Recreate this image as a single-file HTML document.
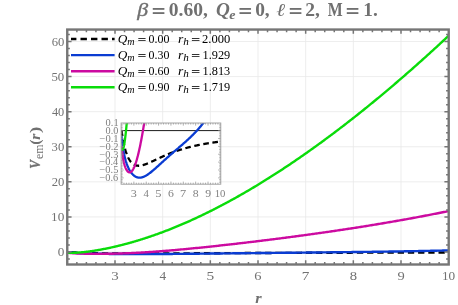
<!DOCTYPE html>
<html><head><meta charset="utf-8"><title>plot</title>
<style>html,body{margin:0;padding:0;background:#fff;width:458px;height:305px;overflow:hidden}body{position:relative;font-family:"Liberation Serif",serif}</style></head>
<body>
<svg width="458" height="305" viewBox="0 0 458 305" font-family="Liberation Serif, serif" style="position:absolute;left:0;top:0;will-change:transform">
<defs>
<clipPath id="cm"><rect x="67.25" y="29.55" width="381.45" height="234.95"/></clipPath>
<clipPath id="ci"><rect x="121.1" y="123.0" width="99.70" height="61.20"/></clipPath>
</defs>
<rect width="458" height="305" fill="#fff"/>
<path d="M115.00,29.55 V264.5 M162.66,29.55 V264.5 M210.33,29.55 V264.5 M258.00,29.55 V264.5 M305.67,29.55 V264.5 M353.33,29.55 V264.5 M401.00,29.55 V264.5 M67.25,252.00 H448.7 M67.25,216.92 H448.7 M67.25,181.84 H448.7 M67.25,146.76 H448.7 M67.25,111.68 H448.7 M67.25,76.60 H448.7 M67.25,41.52 H448.7" stroke="#e8e8e8" stroke-width="0.8" fill="none"/>
<g clip-path="url(#cm)" fill="none" stroke-linejoin="round">
<path d="M67.33,252.00 L67.93,252.05 L68.52,252.09 L69.12,252.14 L69.71,252.18 L70.31,252.22 L70.91,252.26 L71.50,252.30 L72.10,252.34 L72.69,252.37 L73.29,252.41 L73.88,252.45 L74.48,252.48 L75.08,252.51 L75.67,252.55 L76.27,252.58 L76.86,252.61 L77.46,252.64 L78.06,252.67 L78.65,252.70 L79.25,252.72 L79.84,252.75 L80.44,252.78 L81.03,252.80 L81.63,252.83 L82.23,252.85 L82.82,252.88 L83.42,252.90 L84.01,252.92 L84.61,252.94 L85.21,252.97 L85.80,252.99 L86.40,253.01 L86.99,253.03 L87.59,253.04 L88.18,253.06 L88.78,253.08 L89.38,253.10 L89.97,253.12 L90.57,253.13 L91.16,253.15 L91.76,253.16 L92.36,253.18 L92.95,253.19 L93.55,253.21 L94.14,253.22 L94.74,253.24 L95.33,253.25 L95.93,253.26 L96.53,253.27 L97.12,253.29 L97.72,253.30 L98.31,253.31 L98.91,253.32 L99.51,253.33 L100.10,253.34 L100.70,253.35 L101.29,253.36 L101.89,253.37 L102.48,253.38 L103.08,253.39 L103.68,253.40 L104.27,253.40 L104.87,253.41 L105.46,253.42 L106.06,253.43 L106.66,253.43 L107.25,253.44 L107.85,253.45 L108.44,253.45 L109.04,253.46 L109.63,253.47 L110.23,253.47 L110.83,253.48 L111.42,253.48 L112.02,253.49 L112.61,253.49 L113.21,253.50 L113.81,253.50 L114.40,253.51 L115.00,253.51 L115.59,253.51 L116.19,253.52 L116.78,253.52 L117.38,253.52 L117.98,253.53 L118.57,253.53 L119.17,253.53 L119.76,253.54 L120.36,253.54 L120.96,253.54 L121.55,253.54 L122.15,253.55 L122.74,253.55 L123.34,253.55 L123.93,253.55 L124.53,253.55 L125.13,253.56 L125.72,253.56 L126.32,253.56 L126.91,253.56 L127.51,253.56 L128.11,253.56 L128.70,253.56 L129.30,253.56 L129.89,253.56 L130.49,253.56 L131.08,253.56 L131.68,253.56 L132.28,253.56 L132.87,253.56 L133.47,253.56 L134.06,253.56 L134.66,253.56 L135.26,253.56 L135.85,253.56 L136.45,253.56 L137.04,253.56 L137.64,253.56 L138.23,253.56 L138.83,253.56 L139.43,253.56 L140.02,253.56 L140.62,253.56 L141.21,253.56 L141.81,253.56 L142.41,253.55 L143.00,253.55 L143.60,253.55 L144.19,253.55 L144.79,253.55 L145.38,253.55 L145.98,253.55 L146.58,253.55 L147.17,253.54 L147.77,253.54 L148.36,253.54 L148.96,253.54 L149.56,253.54 L150.15,253.53 L150.75,253.53 L151.34,253.53 L151.94,253.53 L152.53,253.53 L153.13,253.52 L153.73,253.52 L154.32,253.52 L154.92,253.52 L155.51,253.52 L156.11,253.51 L156.71,253.51 L157.30,253.51 L157.90,253.51 L158.49,253.50 L159.09,253.50 L159.68,253.50 L160.28,253.50 L160.88,253.49 L161.47,253.49 L162.07,253.49 L162.66,253.49 L163.86,253.48 L165.05,253.48 L166.24,253.47 L167.43,253.47 L168.62,253.46 L169.81,253.45 L171.01,253.45 L172.20,253.44 L173.39,253.44 L174.58,253.43 L175.77,253.42 L176.96,253.42 L178.16,253.41 L179.35,253.41 L180.54,253.40 L181.73,253.39 L182.92,253.39 L184.11,253.38 L185.31,253.37 L186.50,253.37 L187.69,253.36 L188.88,253.35 L190.07,253.35 L191.26,253.34 L192.46,253.34 L193.65,253.33 L194.84,253.32 L196.03,253.32 L197.22,253.31 L198.41,253.30 L199.61,253.30 L200.80,253.29 L201.99,253.28 L203.18,253.28 L204.37,253.27 L205.56,253.26 L206.76,253.26 L207.95,253.25 L209.14,253.24 L210.33,253.24 L211.52,253.23 L212.71,253.23 L213.91,253.22 L215.10,253.21 L216.29,253.21 L217.48,253.20 L218.67,253.19 L219.86,253.19 L221.06,253.18 L222.25,253.17 L223.44,253.17 L224.63,253.16 L225.82,253.16 L227.01,253.15 L228.21,253.14 L229.40,253.14 L230.59,253.13 L231.78,253.13 L232.97,253.12 L234.16,253.11 L235.36,253.11 L236.55,253.10 L237.74,253.10 L238.93,253.09 L240.12,253.08 L241.31,253.08 L242.51,253.07 L243.70,253.07 L244.89,253.06 L246.08,253.05 L247.27,253.05 L248.46,253.04 L249.66,253.04 L250.85,253.03 L252.04,253.03 L253.23,253.02 L254.42,253.02 L255.61,253.01 L256.81,253.00 L258.00,253.00 L259.19,252.99 L260.38,252.99 L261.57,252.98 L262.76,252.98 L263.96,252.97 L265.15,252.97 L266.34,252.96 L267.53,252.96 L268.72,252.95 L269.91,252.95 L271.11,252.94 L272.30,252.94 L273.49,252.93 L274.68,252.93 L275.87,252.92 L277.06,252.92 L278.26,252.91 L279.45,252.91 L280.64,252.90 L281.83,252.90 L283.02,252.89 L284.21,252.89 L285.41,252.88 L286.60,252.88 L287.79,252.88 L288.98,252.87 L290.17,252.87 L291.36,252.86 L292.56,252.86 L293.75,252.85 L294.94,252.85 L296.13,252.84 L297.32,252.84 L298.51,252.84 L299.71,252.83 L300.90,252.83 L302.09,252.82 L303.28,252.82 L304.47,252.81 L305.67,252.81 L306.86,252.81 L308.05,252.80 L309.24,252.80 L310.43,252.79 L311.62,252.79 L312.82,252.79 L314.01,252.78 L315.20,252.78 L316.39,252.78 L317.58,252.77 L318.77,252.77 L319.97,252.76 L321.16,252.76 L322.35,252.76 L323.54,252.75 L324.73,252.75 L325.92,252.75 L327.12,252.74 L328.31,252.74 L329.50,252.73 L330.69,252.73 L331.88,252.73 L333.07,252.72 L334.27,252.72 L335.46,252.72 L336.65,252.71 L337.84,252.71 L339.03,252.71 L340.22,252.70 L341.42,252.70 L342.61,252.70 L343.80,252.69 L344.99,252.69 L346.18,252.69 L347.37,252.69 L348.57,252.68 L349.76,252.68 L350.95,252.68 L352.14,252.67 L353.33,252.67 L354.52,252.67 L355.72,252.66 L356.91,252.66 L358.10,252.66 L359.29,252.66 L360.48,252.65 L361.67,252.65 L362.87,252.65 L364.06,252.64 L365.25,252.64 L366.44,252.64 L367.63,252.64 L368.82,252.63 L370.02,252.63 L371.21,252.63 L372.40,252.62 L373.59,252.62 L374.78,252.62 L375.97,252.62 L377.17,252.61 L378.36,252.61 L379.55,252.61 L380.74,252.61 L381.93,252.60 L383.12,252.60 L384.32,252.60 L385.51,252.60 L386.70,252.59 L387.89,252.59 L389.08,252.59 L390.27,252.59 L391.47,252.58 L392.66,252.58 L393.85,252.58 L395.04,252.58 L396.23,252.57 L397.42,252.57 L398.62,252.57 L399.81,252.57 L401.00,252.57 L402.19,252.56 L403.38,252.56 L404.57,252.56 L405.77,252.56 L406.96,252.55 L408.15,252.55 L409.34,252.55 L410.53,252.55 L411.72,252.55 L412.92,252.54 L414.11,252.54 L415.30,252.54 L416.49,252.54 L417.68,252.54 L418.87,252.53 L420.07,252.53 L421.26,252.53 L422.45,252.53 L423.64,252.53 L424.83,252.52 L426.02,252.52 L427.22,252.52 L428.41,252.52 L429.60,252.52 L430.79,252.51 L431.98,252.51 L433.17,252.51 L434.37,252.51 L435.56,252.51 L436.75,252.51 L437.94,252.50 L439.13,252.50 L440.32,252.50 L441.52,252.50 L442.71,252.50 L443.90,252.49 L445.09,252.49 L446.28,252.49 L447.47,252.49 L448.67,252.49" stroke="#000000" stroke-width="2.4" stroke-dasharray="6.3 3.9" stroke-dashoffset="6.2"/>
<path d="M67.33,252.24 L67.93,252.31 L68.52,252.38 L69.12,252.44 L69.71,252.50 L70.31,252.55 L70.91,252.60 L71.50,252.65 L72.10,252.70 L72.69,252.75 L73.29,252.79 L73.88,252.84 L74.48,252.88 L75.08,252.92 L75.67,252.95 L76.27,252.99 L76.86,253.02 L77.46,253.06 L78.06,253.09 L78.65,253.12 L79.25,253.15 L79.84,253.18 L80.44,253.21 L81.03,253.23 L81.63,253.26 L82.23,253.28 L82.82,253.31 L83.42,253.33 L84.01,253.36 L84.61,253.38 L85.21,253.40 L85.80,253.42 L86.40,253.44 L86.99,253.46 L87.59,253.48 L88.18,253.50 L88.78,253.52 L89.38,253.53 L89.97,253.55 L90.57,253.57 L91.16,253.59 L91.76,253.60 L92.36,253.62 L92.95,253.63 L93.55,253.65 L94.14,253.66 L94.74,253.68 L95.33,253.69 L95.93,253.70 L96.53,253.72 L97.12,253.73 L97.72,253.74 L98.31,253.75 L98.91,253.77 L99.51,253.78 L100.10,253.79 L100.70,253.80 L101.29,253.81 L101.89,253.82 L102.48,253.83 L103.08,253.84 L103.68,253.85 L104.27,253.86 L104.87,253.87 L105.46,253.88 L106.06,253.89 L106.66,253.90 L107.25,253.91 L107.85,253.91 L108.44,253.92 L109.04,253.93 L109.63,253.94 L110.23,253.95 L110.83,253.95 L111.42,253.96 L112.02,253.97 L112.61,253.97 L113.21,253.98 L113.81,253.99 L114.40,253.99 L115.00,254.00 L115.59,254.00 L116.19,254.01 L116.78,254.01 L117.38,254.02 L117.98,254.02 L118.57,254.03 L119.17,254.03 L119.76,254.04 L120.36,254.04 L120.96,254.05 L121.55,254.05 L122.15,254.05 L122.74,254.06 L123.34,254.06 L123.93,254.06 L124.53,254.07 L125.13,254.07 L125.72,254.07 L126.32,254.07 L126.91,254.08 L127.51,254.08 L128.11,254.08 L128.70,254.08 L129.30,254.08 L129.89,254.09 L130.49,254.09 L131.08,254.09 L131.68,254.09 L132.28,254.09 L132.87,254.09 L133.47,254.09 L134.06,254.09 L134.66,254.09 L135.26,254.09 L135.85,254.10 L136.45,254.10 L137.04,254.10 L137.64,254.10 L138.23,254.09 L138.83,254.09 L139.43,254.09 L140.02,254.09 L140.62,254.09 L141.21,254.09 L141.81,254.09 L142.41,254.09 L143.00,254.09 L143.60,254.09 L144.19,254.09 L144.79,254.08 L145.38,254.08 L145.98,254.08 L146.58,254.08 L147.17,254.08 L147.77,254.08 L148.36,254.07 L148.96,254.07 L149.56,254.07 L150.15,254.07 L150.75,254.06 L151.34,254.06 L151.94,254.06 L152.53,254.06 L153.13,254.05 L153.73,254.05 L154.32,254.05 L154.92,254.04 L155.51,254.04 L156.11,254.04 L156.71,254.04 L157.30,254.03 L157.90,254.03 L158.49,254.03 L159.09,254.02 L159.68,254.02 L160.28,254.01 L160.88,254.01 L161.47,254.01 L162.07,254.00 L162.66,254.00 L163.86,253.99 L165.05,253.98 L166.24,253.97 L167.43,253.96 L168.62,253.96 L169.81,253.95 L171.01,253.94 L172.20,253.93 L173.39,253.92 L174.58,253.91 L175.77,253.90 L176.96,253.89 L178.16,253.88 L179.35,253.86 L180.54,253.85 L181.73,253.84 L182.92,253.83 L184.11,253.82 L185.31,253.81 L186.50,253.80 L187.69,253.79 L188.88,253.77 L190.07,253.76 L191.26,253.75 L192.46,253.74 L193.65,253.73 L194.84,253.72 L196.03,253.70 L197.22,253.69 L198.41,253.68 L199.61,253.67 L200.80,253.65 L201.99,253.64 L203.18,253.63 L204.37,253.62 L205.56,253.60 L206.76,253.59 L207.95,253.58 L209.14,253.57 L210.33,253.55 L211.52,253.54 L212.71,253.53 L213.91,253.52 L215.10,253.50 L216.29,253.49 L217.48,253.48 L218.67,253.47 L219.86,253.45 L221.06,253.44 L222.25,253.43 L223.44,253.42 L224.63,253.40 L225.82,253.39 L227.01,253.38 L228.21,253.37 L229.40,253.35 L230.59,253.34 L231.78,253.33 L232.97,253.32 L234.16,253.30 L235.36,253.29 L236.55,253.28 L237.74,253.27 L238.93,253.25 L240.12,253.24 L241.31,253.23 L242.51,253.22 L243.70,253.21 L244.89,253.19 L246.08,253.18 L247.27,253.17 L248.46,253.16 L249.66,253.14 L250.85,253.13 L252.04,253.12 L253.23,253.11 L254.42,253.10 L255.61,253.08 L256.81,253.07 L258.00,253.06 L259.19,253.05 L260.38,253.04 L261.57,253.02 L262.76,253.01 L263.96,253.00 L265.15,252.99 L266.34,252.98 L267.53,252.96 L268.72,252.95 L269.91,252.94 L271.11,252.93 L272.30,252.92 L273.49,252.90 L274.68,252.89 L275.87,252.88 L277.06,252.87 L278.26,252.86 L279.45,252.85 L280.64,252.83 L281.83,252.82 L283.02,252.81 L284.21,252.80 L285.41,252.79 L286.60,252.77 L287.79,252.76 L288.98,252.75 L290.17,252.74 L291.36,252.73 L292.56,252.72 L293.75,252.70 L294.94,252.69 L296.13,252.68 L297.32,252.67 L298.51,252.66 L299.71,252.64 L300.90,252.63 L302.09,252.62 L303.28,252.61 L304.47,252.60 L305.67,252.58 L306.86,252.57 L308.05,252.56 L309.24,252.55 L310.43,252.54 L311.62,252.52 L312.82,252.51 L314.01,252.50 L315.20,252.49 L316.39,252.47 L317.58,252.46 L318.77,252.45 L319.97,252.44 L321.16,252.42 L322.35,252.41 L323.54,252.40 L324.73,252.39 L325.92,252.37 L327.12,252.36 L328.31,252.35 L329.50,252.33 L330.69,252.32 L331.88,252.31 L333.07,252.30 L334.27,252.28 L335.46,252.27 L336.65,252.26 L337.84,252.24 L339.03,252.23 L340.22,252.22 L341.42,252.20 L342.61,252.19 L343.80,252.17 L344.99,252.16 L346.18,252.15 L347.37,252.13 L348.57,252.12 L349.76,252.10 L350.95,252.09 L352.14,252.07 L353.33,252.06 L354.52,252.05 L355.72,252.03 L356.91,252.02 L358.10,252.00 L359.29,251.99 L360.48,251.97 L361.67,251.96 L362.87,251.94 L364.06,251.92 L365.25,251.91 L366.44,251.89 L367.63,251.88 L368.82,251.86 L370.02,251.85 L371.21,251.83 L372.40,251.81 L373.59,251.80 L374.78,251.78 L375.97,251.76 L377.17,251.75 L378.36,251.73 L379.55,251.71 L380.74,251.69 L381.93,251.68 L383.12,251.66 L384.32,251.64 L385.51,251.62 L386.70,251.61 L387.89,251.59 L389.08,251.57 L390.27,251.55 L391.47,251.53 L392.66,251.51 L393.85,251.49 L395.04,251.48 L396.23,251.46 L397.42,251.44 L398.62,251.42 L399.81,251.40 L401.00,251.38 L402.19,251.36 L403.38,251.34 L404.57,251.32 L405.77,251.30 L406.96,251.28 L408.15,251.26 L409.34,251.23 L410.53,251.21 L411.72,251.19 L412.92,251.17 L414.11,251.15 L415.30,251.13 L416.49,251.10 L417.68,251.08 L418.87,251.06 L420.07,251.04 L421.26,251.01 L422.45,250.99 L423.64,250.97 L424.83,250.94 L426.02,250.92 L427.22,250.90 L428.41,250.87 L429.60,250.85 L430.79,250.82 L431.98,250.80 L433.17,250.77 L434.37,250.75 L435.56,250.72 L436.75,250.70 L437.94,250.67 L439.13,250.65 L440.32,250.62 L441.52,250.59 L442.71,250.57 L443.90,250.54 L445.09,250.51 L446.28,250.49 L447.47,250.46 L448.67,250.43" stroke="#0a3cd2" stroke-width="2.4"/>
<path d="M67.33,252.70 L67.93,252.77 L68.52,252.83 L69.12,252.89 L69.71,252.95 L70.31,253.01 L70.91,253.06 L71.50,253.10 L72.10,253.15 L72.69,253.19 L73.29,253.23 L73.88,253.27 L74.48,253.31 L75.08,253.34 L75.67,253.37 L76.27,253.40 L76.86,253.43 L77.46,253.46 L78.06,253.49 L78.65,253.51 L79.25,253.53 L79.84,253.56 L80.44,253.58 L81.03,253.60 L81.63,253.62 L82.23,253.64 L82.82,253.65 L83.42,253.67 L84.01,253.69 L84.61,253.70 L85.21,253.72 L85.80,253.73 L86.40,253.74 L86.99,253.75 L87.59,253.76 L88.18,253.77 L88.78,253.78 L89.38,253.79 L89.97,253.80 L90.57,253.81 L91.16,253.82 L91.76,253.82 L92.36,253.83 L92.95,253.84 L93.55,253.84 L94.14,253.84 L94.74,253.85 L95.33,253.85 L95.93,253.85 L96.53,253.86 L97.12,253.86 L97.72,253.86 L98.31,253.86 L98.91,253.86 L99.51,253.86 L100.10,253.86 L100.70,253.86 L101.29,253.85 L101.89,253.85 L102.48,253.85 L103.08,253.84 L103.68,253.84 L104.27,253.83 L104.87,253.83 L105.46,253.82 L106.06,253.82 L106.66,253.81 L107.25,253.80 L107.85,253.79 L108.44,253.79 L109.04,253.78 L109.63,253.77 L110.23,253.76 L110.83,253.75 L111.42,253.74 L112.02,253.72 L112.61,253.71 L113.21,253.70 L113.81,253.69 L114.40,253.67 L115.00,253.66 L115.59,253.64 L116.19,253.63 L116.78,253.61 L117.38,253.60 L117.98,253.58 L118.57,253.56 L119.17,253.54 L119.76,253.53 L120.36,253.51 L120.96,253.49 L121.55,253.47 L122.15,253.45 L122.74,253.43 L123.34,253.41 L123.93,253.38 L124.53,253.36 L125.13,253.34 L125.72,253.32 L126.32,253.29 L126.91,253.27 L127.51,253.24 L128.11,253.22 L128.70,253.19 L129.30,253.17 L129.89,253.14 L130.49,253.11 L131.08,253.09 L131.68,253.06 L132.28,253.03 L132.87,253.00 L133.47,252.97 L134.06,252.94 L134.66,252.91 L135.26,252.88 L135.85,252.85 L136.45,252.82 L137.04,252.79 L137.64,252.76 L138.23,252.73 L138.83,252.69 L139.43,252.66 L140.02,252.63 L140.62,252.59 L141.21,252.56 L141.81,252.52 L142.41,252.49 L143.00,252.45 L143.60,252.41 L144.19,252.38 L144.79,252.34 L145.38,252.30 L145.98,252.27 L146.58,252.23 L147.17,252.19 L147.77,252.15 L148.36,252.11 L148.96,252.07 L149.56,252.03 L150.15,251.99 L150.75,251.95 L151.34,251.91 L151.94,251.87 L152.53,251.83 L153.13,251.79 L153.73,251.74 L154.32,251.70 L154.92,251.66 L155.51,251.62 L156.11,251.57 L156.71,251.53 L157.30,251.48 L157.90,251.44 L158.49,251.39 L159.09,251.35 L159.68,251.30 L160.28,251.26 L160.88,251.21 L161.47,251.17 L162.07,251.12 L162.66,251.07 L163.86,250.98 L165.05,250.88 L166.24,250.79 L167.43,250.69 L168.62,250.59 L169.81,250.49 L171.01,250.39 L172.20,250.28 L173.39,250.18 L174.58,250.08 L175.77,249.97 L176.96,249.87 L178.16,249.76 L179.35,249.65 L180.54,249.54 L181.73,249.43 L182.92,249.32 L184.11,249.21 L185.31,249.10 L186.50,248.99 L187.69,248.87 L188.88,248.76 L190.07,248.65 L191.26,248.53 L192.46,248.41 L193.65,248.30 L194.84,248.18 L196.03,248.06 L197.22,247.94 L198.41,247.82 L199.61,247.70 L200.80,247.58 L201.99,247.46 L203.18,247.33 L204.37,247.21 L205.56,247.09 L206.76,246.96 L207.95,246.84 L209.14,246.71 L210.33,246.59 L211.52,246.46 L212.71,246.33 L213.91,246.21 L215.10,246.08 L216.29,245.95 L217.48,245.82 L218.67,245.69 L219.86,245.56 L221.06,245.43 L222.25,245.30 L223.44,245.17 L224.63,245.03 L225.82,244.90 L227.01,244.77 L228.21,244.63 L229.40,244.50 L230.59,244.37 L231.78,244.23 L232.97,244.10 L234.16,243.96 L235.36,243.82 L236.55,243.69 L237.74,243.55 L238.93,243.41 L240.12,243.27 L241.31,243.13 L242.51,242.99 L243.70,242.86 L244.89,242.72 L246.08,242.57 L247.27,242.43 L248.46,242.29 L249.66,242.15 L250.85,242.01 L252.04,241.87 L253.23,241.72 L254.42,241.58 L255.61,241.44 L256.81,241.29 L258.00,241.15 L259.19,241.00 L260.38,240.86 L261.57,240.71 L262.76,240.56 L263.96,240.42 L265.15,240.27 L266.34,240.12 L267.53,239.97 L268.72,239.83 L269.91,239.68 L271.11,239.53 L272.30,239.38 L273.49,239.23 L274.68,239.08 L275.87,238.93 L277.06,238.77 L278.26,238.62 L279.45,238.47 L280.64,238.32 L281.83,238.16 L283.02,238.01 L284.21,237.86 L285.41,237.70 L286.60,237.55 L287.79,237.39 L288.98,237.23 L290.17,237.08 L291.36,236.92 L292.56,236.76 L293.75,236.61 L294.94,236.45 L296.13,236.29 L297.32,236.13 L298.51,235.97 L299.71,235.81 L300.90,235.65 L302.09,235.49 L303.28,235.33 L304.47,235.16 L305.67,235.00 L306.86,234.84 L308.05,234.67 L309.24,234.51 L310.43,234.35 L311.62,234.18 L312.82,234.02 L314.01,233.85 L315.20,233.68 L316.39,233.52 L317.58,233.35 L318.77,233.18 L319.97,233.01 L321.16,232.84 L322.35,232.67 L323.54,232.50 L324.73,232.33 L325.92,232.16 L327.12,231.99 L328.31,231.82 L329.50,231.64 L330.69,231.47 L331.88,231.30 L333.07,231.12 L334.27,230.95 L335.46,230.77 L336.65,230.60 L337.84,230.42 L339.03,230.24 L340.22,230.06 L341.42,229.88 L342.61,229.71 L343.80,229.53 L344.99,229.35 L346.18,229.17 L347.37,228.98 L348.57,228.80 L349.76,228.62 L350.95,228.44 L352.14,228.25 L353.33,228.07 L354.52,227.88 L355.72,227.70 L356.91,227.51 L358.10,227.32 L359.29,227.14 L360.48,226.95 L361.67,226.76 L362.87,226.57 L364.06,226.38 L365.25,226.19 L366.44,226.00 L367.63,225.81 L368.82,225.61 L370.02,225.42 L371.21,225.23 L372.40,225.03 L373.59,224.84 L374.78,224.64 L375.97,224.45 L377.17,224.25 L378.36,224.05 L379.55,223.85 L380.74,223.65 L381.93,223.45 L383.12,223.25 L384.32,223.05 L385.51,222.85 L386.70,222.65 L387.89,222.44 L389.08,222.24 L390.27,222.04 L391.47,221.83 L392.66,221.62 L393.85,221.42 L395.04,221.21 L396.23,221.00 L397.42,220.79 L398.62,220.58 L399.81,220.37 L401.00,220.16 L402.19,219.95 L403.38,219.74 L404.57,219.52 L405.77,219.31 L406.96,219.10 L408.15,218.88 L409.34,218.66 L410.53,218.45 L411.72,218.23 L412.92,218.01 L414.11,217.79 L415.30,217.57 L416.49,217.35 L417.68,217.13 L418.87,216.91 L420.07,216.68 L421.26,216.46 L422.45,216.23 L423.64,216.01 L424.83,215.78 L426.02,215.55 L427.22,215.33 L428.41,215.10 L429.60,214.87 L430.79,214.64 L431.98,214.41 L433.17,214.18 L434.37,213.94 L435.56,213.71 L436.75,213.48 L437.94,213.24 L439.13,213.00 L440.32,212.77 L441.52,212.53 L442.71,212.29 L443.90,212.05 L445.09,211.81 L446.28,211.57 L447.47,211.33 L448.67,211.09" stroke="#cc0aa0" stroke-width="2.4"/>
<path d="M67.33,252.77 L67.93,252.80 L68.52,252.82 L69.12,252.84 L69.71,252.85 L70.31,252.85 L70.91,252.86 L71.50,252.85 L72.10,252.85 L72.69,252.84 L73.29,252.83 L73.88,252.81 L74.48,252.79 L75.08,252.77 L75.67,252.74 L76.27,252.71 L76.86,252.68 L77.46,252.64 L78.06,252.60 L78.65,252.56 L79.25,252.52 L79.84,252.47 L80.44,252.42 L81.03,252.37 L81.63,252.32 L82.23,252.26 L82.82,252.20 L83.42,252.14 L84.01,252.08 L84.61,252.01 L85.21,251.95 L85.80,251.88 L86.40,251.81 L86.99,251.74 L87.59,251.66 L88.18,251.59 L88.78,251.51 L89.38,251.43 L89.97,251.35 L90.57,251.26 L91.16,251.18 L91.76,251.09 L92.36,251.00 L92.95,250.91 L93.55,250.82 L94.14,250.73 L94.74,250.64 L95.33,250.54 L95.93,250.44 L96.53,250.34 L97.12,250.24 L97.72,250.14 L98.31,250.04 L98.91,249.94 L99.51,249.83 L100.10,249.72 L100.70,249.61 L101.29,249.50 L101.89,249.39 L102.48,249.28 L103.08,249.17 L103.68,249.05 L104.27,248.94 L104.87,248.82 L105.46,248.70 L106.06,248.58 L106.66,248.46 L107.25,248.34 L107.85,248.21 L108.44,248.09 L109.04,247.96 L109.63,247.83 L110.23,247.71 L110.83,247.58 L111.42,247.45 L112.02,247.31 L112.61,247.18 L113.21,247.05 L113.81,246.91 L114.40,246.77 L115.00,246.64 L115.59,246.50 L116.19,246.36 L116.78,246.22 L117.38,246.07 L117.98,245.93 L118.57,245.78 L119.17,245.64 L119.76,245.49 L120.36,245.34 L120.96,245.19 L121.55,245.04 L122.15,244.89 L122.74,244.74 L123.34,244.59 L123.93,244.43 L124.53,244.27 L125.13,244.12 L125.72,243.96 L126.32,243.80 L126.91,243.64 L127.51,243.48 L128.11,243.32 L128.70,243.15 L129.30,242.99 L129.89,242.82 L130.49,242.65 L131.08,242.49 L131.68,242.32 L132.28,242.15 L132.87,241.98 L133.47,241.80 L134.06,241.63 L134.66,241.46 L135.26,241.28 L135.85,241.10 L136.45,240.93 L137.04,240.75 L137.64,240.57 L138.23,240.39 L138.83,240.21 L139.43,240.02 L140.02,239.84 L140.62,239.65 L141.21,239.47 L141.81,239.28 L142.41,239.09 L143.00,238.90 L143.60,238.71 L144.19,238.52 L144.79,238.33 L145.38,238.14 L145.98,237.94 L146.58,237.75 L147.17,237.55 L147.77,237.35 L148.36,237.15 L148.96,236.95 L149.56,236.75 L150.15,236.55 L150.75,236.35 L151.34,236.14 L151.94,235.94 L152.53,235.73 L153.13,235.53 L153.73,235.32 L154.32,235.11 L154.92,234.90 L155.51,234.69 L156.11,234.48 L156.71,234.26 L157.30,234.05 L157.90,233.84 L158.49,233.62 L159.09,233.40 L159.68,233.18 L160.28,232.97 L160.88,232.75 L161.47,232.52 L162.07,232.30 L162.66,232.08 L163.86,231.63 L165.05,231.18 L166.24,230.72 L167.43,230.26 L168.62,229.80 L169.81,229.33 L171.01,228.86 L172.20,228.38 L173.39,227.90 L174.58,227.41 L175.77,226.93 L176.96,226.44 L178.16,225.94 L179.35,225.44 L180.54,224.94 L181.73,224.43 L182.92,223.92 L184.11,223.41 L185.31,222.89 L186.50,222.37 L187.69,221.84 L188.88,221.31 L190.07,220.78 L191.26,220.24 L192.46,219.70 L193.65,219.16 L194.84,218.61 L196.03,218.06 L197.22,217.50 L198.41,216.95 L199.61,216.38 L200.80,215.82 L201.99,215.25 L203.18,214.68 L204.37,214.10 L205.56,213.52 L206.76,212.94 L207.95,212.35 L209.14,211.76 L210.33,211.17 L211.52,210.57 L212.71,209.97 L213.91,209.37 L215.10,208.76 L216.29,208.15 L217.48,207.54 L218.67,206.92 L219.86,206.30 L221.06,205.67 L222.25,205.05 L223.44,204.42 L224.63,203.78 L225.82,203.15 L227.01,202.51 L228.21,201.86 L229.40,201.21 L230.59,200.56 L231.78,199.91 L232.97,199.25 L234.16,198.59 L235.36,197.93 L236.55,197.26 L237.74,196.59 L238.93,195.92 L240.12,195.25 L241.31,194.57 L242.51,193.89 L243.70,193.20 L244.89,192.51 L246.08,191.82 L247.27,191.13 L248.46,190.43 L249.66,189.73 L250.85,189.02 L252.04,188.32 L253.23,187.61 L254.42,186.89 L255.61,186.18 L256.81,185.46 L258.00,184.74 L259.19,184.01 L260.38,183.28 L261.57,182.55 L262.76,181.82 L263.96,181.08 L265.15,180.34 L266.34,179.60 L267.53,178.85 L268.72,178.11 L269.91,177.35 L271.11,176.60 L272.30,175.84 L273.49,175.08 L274.68,174.32 L275.87,173.55 L277.06,172.79 L278.26,172.01 L279.45,171.24 L280.64,170.46 L281.83,169.68 L283.02,168.90 L284.21,168.11 L285.41,167.33 L286.60,166.53 L287.79,165.74 L288.98,164.94 L290.17,164.14 L291.36,163.34 L292.56,162.54 L293.75,161.73 L294.94,160.92 L296.13,160.11 L297.32,159.29 L298.51,158.47 L299.71,157.65 L300.90,156.83 L302.09,156.00 L303.28,155.17 L304.47,154.34 L305.67,153.50 L306.86,152.67 L308.05,151.83 L309.24,150.98 L310.43,150.14 L311.62,149.29 L312.82,148.44 L314.01,147.59 L315.20,146.73 L316.39,145.87 L317.58,145.01 L318.77,144.15 L319.97,143.28 L321.16,142.41 L322.35,141.54 L323.54,140.67 L324.73,139.79 L325.92,138.91 L327.12,138.03 L328.31,137.15 L329.50,136.26 L330.69,135.37 L331.88,134.48 L333.07,133.59 L334.27,132.69 L335.46,131.79 L336.65,130.89 L337.84,129.99 L339.03,129.08 L340.22,128.17 L341.42,127.26 L342.61,126.35 L343.80,125.43 L344.99,124.51 L346.18,123.59 L347.37,122.67 L348.57,121.74 L349.76,120.81 L350.95,119.88 L352.14,118.95 L353.33,118.01 L354.52,117.07 L355.72,116.13 L356.91,115.19 L358.10,114.24 L359.29,113.30 L360.48,112.35 L361.67,111.39 L362.87,110.44 L364.06,109.48 L365.25,108.52 L366.44,107.56 L367.63,106.59 L368.82,105.63 L370.02,104.66 L371.21,103.69 L372.40,102.71 L373.59,101.74 L374.78,100.76 L375.97,99.78 L377.17,98.79 L378.36,97.81 L379.55,96.82 L380.74,95.83 L381.93,94.84 L383.12,93.84 L384.32,92.85 L385.51,91.85 L386.70,90.85 L387.89,89.84 L389.08,88.84 L390.27,87.83 L391.47,86.82 L392.66,85.80 L393.85,84.79 L395.04,83.77 L396.23,82.75 L397.42,81.73 L398.62,80.70 L399.81,79.68 L401.00,78.65 L402.19,77.62 L403.38,76.58 L404.57,75.55 L405.77,74.51 L406.96,73.47 L408.15,72.43 L409.34,71.38 L410.53,70.34 L411.72,69.29 L412.92,68.24 L414.11,67.18 L415.30,66.13 L416.49,65.07 L417.68,64.01 L418.87,62.95 L420.07,61.88 L421.26,60.82 L422.45,59.75 L423.64,58.68 L424.83,57.61 L426.02,56.53 L427.22,55.45 L428.41,54.37 L429.60,53.29 L430.79,52.21 L431.98,51.12 L433.17,50.03 L434.37,48.94 L435.56,47.85 L436.75,46.76 L437.94,45.66 L439.13,44.56 L440.32,43.46 L441.52,42.36 L442.71,41.25 L443.90,40.14 L445.09,39.03 L446.28,37.92 L447.47,36.81 L448.67,35.69" stroke="#0adc0a" stroke-width="2.4"/>
</g>
<path d="M76.86,264.5 v-2.60 M76.86,29.55 v2.60 M86.40,264.5 v-2.60 M86.40,29.55 v2.60 M95.93,264.5 v-2.60 M95.93,29.55 v2.60 M105.46,264.5 v-2.60 M105.46,29.55 v2.60 M115.00,264.5 v-4.30 M115.00,29.55 v4.30 M124.53,264.5 v-2.60 M124.53,29.55 v2.60 M134.06,264.5 v-2.60 M134.06,29.55 v2.60 M143.60,264.5 v-2.60 M143.60,29.55 v2.60 M153.13,264.5 v-2.60 M153.13,29.55 v2.60 M162.66,264.5 v-4.30 M162.66,29.55 v4.30 M172.20,264.5 v-2.60 M172.20,29.55 v2.60 M181.73,264.5 v-2.60 M181.73,29.55 v2.60 M191.26,264.5 v-2.60 M191.26,29.55 v2.60 M200.80,264.5 v-2.60 M200.80,29.55 v2.60 M210.33,264.5 v-4.30 M210.33,29.55 v4.30 M219.86,264.5 v-2.60 M219.86,29.55 v2.60 M229.40,264.5 v-2.60 M229.40,29.55 v2.60 M238.93,264.5 v-2.60 M238.93,29.55 v2.60 M248.46,264.5 v-2.60 M248.46,29.55 v2.60 M258.00,264.5 v-4.30 M258.00,29.55 v4.30 M267.53,264.5 v-2.60 M267.53,29.55 v2.60 M277.06,264.5 v-2.60 M277.06,29.55 v2.60 M286.60,264.5 v-2.60 M286.60,29.55 v2.60 M296.13,264.5 v-2.60 M296.13,29.55 v2.60 M305.67,264.5 v-4.30 M305.67,29.55 v4.30 M315.20,264.5 v-2.60 M315.20,29.55 v2.60 M324.73,264.5 v-2.60 M324.73,29.55 v2.60 M334.27,264.5 v-2.60 M334.27,29.55 v2.60 M343.80,264.5 v-2.60 M343.80,29.55 v2.60 M353.33,264.5 v-4.30 M353.33,29.55 v4.30 M362.87,264.5 v-2.60 M362.87,29.55 v2.60 M372.40,264.5 v-2.60 M372.40,29.55 v2.60 M381.93,264.5 v-2.60 M381.93,29.55 v2.60 M391.47,264.5 v-2.60 M391.47,29.55 v2.60 M401.00,264.5 v-4.30 M401.00,29.55 v4.30 M410.53,264.5 v-2.60 M410.53,29.55 v2.60 M420.07,264.5 v-2.60 M420.07,29.55 v2.60 M429.60,264.5 v-2.60 M429.60,29.55 v2.60 M439.13,264.5 v-2.60 M439.13,29.55 v2.60 M67.25,259.02 h2.60 M448.7,259.02 h-2.60 M67.25,252.00 h4.30 M448.7,252.00 h-4.30 M67.25,244.98 h2.60 M448.7,244.98 h-2.60 M67.25,237.97 h2.60 M448.7,237.97 h-2.60 M67.25,230.95 h2.60 M448.7,230.95 h-2.60 M67.25,223.94 h2.60 M448.7,223.94 h-2.60 M67.25,216.92 h4.30 M448.7,216.92 h-4.30 M67.25,209.90 h2.60 M448.7,209.90 h-2.60 M67.25,202.89 h2.60 M448.7,202.89 h-2.60 M67.25,195.87 h2.60 M448.7,195.87 h-2.60 M67.25,188.86 h2.60 M448.7,188.86 h-2.60 M67.25,181.84 h4.30 M448.7,181.84 h-4.30 M67.25,174.82 h2.60 M448.7,174.82 h-2.60 M67.25,167.81 h2.60 M448.7,167.81 h-2.60 M67.25,160.79 h2.60 M448.7,160.79 h-2.60 M67.25,153.78 h2.60 M448.7,153.78 h-2.60 M67.25,146.76 h4.30 M448.7,146.76 h-4.30 M67.25,139.74 h2.60 M448.7,139.74 h-2.60 M67.25,132.73 h2.60 M448.7,132.73 h-2.60 M67.25,125.71 h2.60 M448.7,125.71 h-2.60 M67.25,118.70 h2.60 M448.7,118.70 h-2.60 M67.25,111.68 h4.30 M448.7,111.68 h-4.30 M67.25,104.66 h2.60 M448.7,104.66 h-2.60 M67.25,97.65 h2.60 M448.7,97.65 h-2.60 M67.25,90.63 h2.60 M448.7,90.63 h-2.60 M67.25,83.62 h2.60 M448.7,83.62 h-2.60 M67.25,76.60 h4.30 M448.7,76.60 h-4.30 M67.25,69.58 h2.60 M448.7,69.58 h-2.60 M67.25,62.57 h2.60 M448.7,62.57 h-2.60 M67.25,55.55 h2.60 M448.7,55.55 h-2.60 M67.25,48.54 h2.60 M448.7,48.54 h-2.60 M67.25,41.52 h4.30 M448.7,41.52 h-4.30 M67.25,34.50 h2.60 M448.7,34.50 h-2.60" stroke="#767676" stroke-width="1.5" fill="none"/>
<rect x="67.25" y="29.55" width="381.45" height="234.95" fill="none" stroke="#767676" stroke-width="2.4"/>
<rect x="121.1" y="123.0" width="99.70" height="61.20" fill="#fff"/>
<path d="M121.1,130.60 H220.8" stroke="#000" stroke-width="0.9"/>
<g clip-path="url(#ci)" fill="none" stroke-linejoin="round">
<path d="M121.50,130.66 L121.65,131.68 L121.81,132.68 L121.96,133.66 L122.12,134.61 L122.27,135.53 L122.43,136.44 L122.58,137.32 L122.74,138.17 L122.89,139.01 L123.05,139.82 L123.20,140.61 L123.35,141.38 L123.51,142.13 L123.66,142.86 L123.82,143.58 L123.97,144.27 L124.13,144.95 L124.28,145.61 L124.44,146.25 L124.59,146.87 L124.74,147.48 L124.90,148.07 L125.05,148.65 L125.21,149.21 L125.36,149.76 L125.52,150.29 L125.67,150.81 L125.83,151.31 L125.98,151.81 L126.14,152.28 L126.29,152.75 L126.44,153.20 L126.60,153.64 L126.75,154.07 L126.91,154.48 L127.06,154.89 L127.22,155.28 L127.37,155.66 L127.53,156.04 L127.68,156.40 L127.83,156.75 L127.99,157.09 L128.14,157.42 L128.30,157.74 L128.45,158.06 L128.61,158.36 L128.76,158.65 L128.92,158.94 L129.07,159.22 L129.22,159.49 L129.38,159.75 L129.53,160.00 L129.69,160.25 L129.84,160.49 L130.00,160.72 L130.15,160.94 L130.31,161.16 L130.46,161.37 L130.62,161.57 L130.77,161.77 L130.92,161.96 L131.08,162.14 L131.23,162.32 L131.39,162.49 L131.54,162.66 L131.70,162.82 L131.85,162.97 L132.01,163.12 L132.16,163.26 L132.31,163.40 L132.47,163.54 L132.62,163.66 L132.78,163.79 L132.93,163.91 L133.09,164.02 L133.24,164.13 L133.40,164.24 L133.55,164.34 L133.71,164.43 L133.86,164.52 L134.01,164.61 L134.17,164.70 L134.32,164.78 L134.48,164.85 L134.63,164.93 L134.79,165.00 L134.94,165.06 L135.10,165.12 L135.25,165.18 L135.41,165.24 L135.56,165.29 L135.71,165.34 L135.87,165.38 L136.02,165.43 L136.18,165.47 L136.33,165.50 L136.49,165.54 L136.64,165.57 L136.80,165.60 L136.95,165.62 L137.10,165.64 L137.26,165.66 L137.41,165.68 L137.57,165.70 L137.72,165.71 L137.88,165.72 L138.03,165.73 L138.19,165.74 L138.34,165.74 L138.50,165.74 L138.65,165.74 L138.80,165.74 L138.96,165.74 L139.11,165.73 L139.27,165.73 L139.42,165.72 L139.58,165.71 L139.73,165.69 L139.89,165.68 L140.04,165.66 L140.19,165.64 L140.35,165.62 L140.50,165.60 L140.66,165.58 L140.81,165.56 L140.97,165.53 L141.12,165.50 L141.28,165.47 L141.43,165.44 L141.59,165.41 L141.74,165.38 L141.89,165.35 L142.05,165.31 L142.20,165.28 L142.36,165.24 L142.51,165.20 L142.67,165.16 L142.82,165.12 L142.98,165.08 L143.13,165.04 L143.28,164.99 L143.44,164.95 L143.59,164.90 L143.75,164.86 L143.90,164.81 L144.06,164.76 L144.21,164.71 L144.37,164.66 L144.52,164.61 L144.68,164.56 L144.83,164.50 L144.98,164.45 L145.14,164.40 L145.29,164.34 L145.45,164.29 L145.60,164.23 L145.76,164.17 L145.91,164.12 L146.07,164.06 L146.22,164.00 L146.53,163.88 L146.84,163.76 L147.15,163.64 L147.46,163.51 L147.76,163.38 L148.07,163.26 L148.38,163.13 L148.69,162.99 L149.00,162.86 L149.31,162.73 L149.62,162.59 L149.93,162.45 L150.24,162.31 L150.55,162.17 L150.85,162.03 L151.16,161.89 L151.47,161.75 L151.78,161.61 L152.09,161.47 L152.40,161.32 L152.71,161.18 L153.02,161.03 L153.33,160.89 L153.64,160.74 L153.94,160.60 L154.25,160.45 L154.56,160.31 L154.87,160.16 L155.18,160.01 L155.49,159.87 L155.80,159.72 L156.11,159.57 L156.42,159.43 L156.73,159.28 L157.03,159.14 L157.34,158.99 L157.65,158.84 L157.96,158.70 L158.27,158.55 L158.58,158.41 L158.89,158.26 L159.20,158.12 L159.51,157.98 L159.82,157.83 L160.12,157.69 L160.43,157.55 L160.74,157.40 L161.05,157.26 L161.36,157.12 L161.67,156.98 L161.98,156.84 L162.29,156.70 L162.60,156.56 L162.91,156.42 L163.22,156.28 L163.52,156.15 L163.83,156.01 L164.14,155.87 L164.45,155.74 L164.76,155.60 L165.07,155.47 L165.38,155.33 L165.69,155.20 L166.00,155.07 L166.31,154.94 L166.61,154.81 L166.92,154.68 L167.23,154.55 L167.54,154.42 L167.85,154.29 L168.16,154.16 L168.47,154.03 L168.78,153.91 L169.09,153.78 L169.39,153.66 L169.70,153.53 L170.01,153.41 L170.32,153.29 L170.63,153.17 L170.94,153.05 L171.25,152.93 L171.56,152.81 L171.87,152.69 L172.18,152.57 L172.49,152.45 L172.79,152.34 L173.10,152.22 L173.41,152.10 L173.72,151.99 L174.03,151.88 L174.34,151.76 L174.65,151.65 L174.96,151.54 L175.27,151.43 L175.57,151.32 L175.88,151.21 L176.19,151.10 L176.50,151.00 L176.81,150.89 L177.12,150.78 L177.43,150.68 L177.74,150.57 L178.05,150.47 L178.36,150.37 L178.66,150.26 L178.97,150.16 L179.28,150.06 L179.59,149.96 L179.90,149.86 L180.21,149.76 L180.52,149.66 L180.83,149.57 L181.14,149.47 L181.45,149.37 L181.75,149.28 L182.06,149.18 L182.37,149.09 L182.68,149.00 L182.99,148.90 L183.30,148.81 L183.61,148.72 L183.92,148.63 L184.23,148.54 L184.54,148.45 L184.84,148.36 L185.15,148.27 L185.46,148.19 L185.77,148.10 L186.08,148.01 L186.39,147.93 L186.70,147.84 L187.01,147.76 L187.32,147.68 L187.63,147.59 L187.94,147.51 L188.24,147.43 L188.55,147.35 L188.86,147.27 L189.17,147.19 L189.48,147.11 L189.79,147.03 L190.10,146.95 L190.41,146.87 L190.72,146.80 L191.02,146.72 L191.33,146.65 L191.64,146.57 L191.95,146.50 L192.26,146.42 L192.57,146.35 L192.88,146.28 L193.19,146.20 L193.50,146.13 L193.81,146.06 L194.12,145.99 L194.42,145.92 L194.73,145.85 L195.04,145.78 L195.35,145.71 L195.66,145.65 L195.97,145.58 L196.28,145.51 L196.59,145.45 L196.90,145.38 L197.20,145.31 L197.51,145.25 L197.82,145.19 L198.13,145.12 L198.44,145.06 L198.75,145.00 L199.06,144.93 L199.37,144.87 L199.68,144.81 L199.99,144.75 L200.30,144.69 L200.60,144.63 L200.91,144.57 L201.22,144.51 L201.53,144.45 L201.84,144.39 L202.15,144.33 L202.46,144.28 L202.77,144.22 L203.08,144.16 L203.38,144.11 L203.69,144.05 L204.00,143.99 L204.31,143.94 L204.62,143.89 L204.93,143.83 L205.24,143.78 L205.55,143.72 L205.86,143.67 L206.17,143.62 L206.47,143.57 L206.78,143.51 L207.09,143.46 L207.40,143.41 L207.71,143.36 L208.02,143.31 L208.33,143.26 L208.64,143.21 L208.95,143.16 L209.26,143.11 L209.56,143.06 L209.87,143.02 L210.18,142.97 L210.49,142.92 L210.80,142.87 L211.11,142.83 L211.42,142.78 L211.73,142.73 L212.04,142.69 L212.35,142.64 L212.66,142.60 L212.96,142.55 L213.27,142.51 L213.58,142.46 L213.89,142.42 L214.20,142.38 L214.51,142.33 L214.82,142.29 L215.13,142.25 L215.44,142.20 L215.75,142.16 L216.05,142.12 L216.36,142.08 L216.67,142.04 L216.98,141.99 L217.29,141.95 L217.60,141.91 L217.91,141.87 L218.22,141.83 L218.53,141.79 L218.83,141.75 L219.14,141.71 L219.45,141.67 L219.76,141.63 L220.07,141.60 L220.38,141.56" stroke="#000000" stroke-width="2.3" stroke-dasharray="5.6 3.6"/>
<path d="M121.50,136.09 L121.65,137.60 L121.81,139.05 L121.96,140.42 L122.12,141.73 L122.27,142.97 L122.43,144.16 L122.58,145.30 L122.74,146.38 L122.89,147.42 L123.05,148.42 L123.20,149.37 L123.35,150.28 L123.51,151.16 L123.66,152.00 L123.82,152.81 L123.97,153.59 L124.13,154.34 L124.28,155.06 L124.44,155.75 L124.59,156.43 L124.74,157.07 L124.90,157.70 L125.05,158.30 L125.21,158.89 L125.36,159.45 L125.52,160.00 L125.67,160.53 L125.83,161.05 L125.98,161.55 L126.14,162.03 L126.29,162.51 L126.44,162.96 L126.60,163.41 L126.75,163.84 L126.91,164.26 L127.06,164.67 L127.22,165.07 L127.37,165.46 L127.53,165.84 L127.68,166.21 L127.83,166.57 L127.99,166.92 L128.14,167.27 L128.30,167.60 L128.45,167.93 L128.61,168.25 L128.76,168.56 L128.92,168.86 L129.07,169.16 L129.22,169.45 L129.38,169.73 L129.53,170.00 L129.69,170.27 L129.84,170.54 L130.00,170.79 L130.15,171.04 L130.31,171.29 L130.46,171.53 L130.62,171.76 L130.77,171.99 L130.92,172.21 L131.08,172.43 L131.23,172.64 L131.39,172.84 L131.54,173.04 L131.70,173.24 L131.85,173.43 L132.01,173.61 L132.16,173.79 L132.31,173.97 L132.47,174.14 L132.62,174.31 L132.78,174.47 L132.93,174.63 L133.09,174.78 L133.24,174.93 L133.40,175.07 L133.55,175.21 L133.71,175.34 L133.86,175.47 L134.01,175.60 L134.17,175.72 L134.32,175.84 L134.48,175.95 L134.63,176.06 L134.79,176.17 L134.94,176.27 L135.10,176.37 L135.25,176.46 L135.41,176.55 L135.56,176.64 L135.71,176.72 L135.87,176.80 L136.02,176.87 L136.18,176.94 L136.33,177.01 L136.49,177.08 L136.64,177.14 L136.80,177.19 L136.95,177.25 L137.10,177.30 L137.26,177.35 L137.41,177.39 L137.57,177.43 L137.72,177.47 L137.88,177.50 L138.03,177.53 L138.19,177.56 L138.34,177.58 L138.50,177.60 L138.65,177.62 L138.80,177.64 L138.96,177.65 L139.11,177.66 L139.27,177.66 L139.42,177.67 L139.58,177.67 L139.73,177.66 L139.89,177.66 L140.04,177.65 L140.19,177.64 L140.35,177.63 L140.50,177.61 L140.66,177.59 L140.81,177.57 L140.97,177.55 L141.12,177.52 L141.28,177.50 L141.43,177.47 L141.59,177.43 L141.74,177.40 L141.89,177.36 L142.05,177.32 L142.20,177.28 L142.36,177.23 L142.51,177.19 L142.67,177.14 L142.82,177.09 L142.98,177.03 L143.13,176.98 L143.28,176.92 L143.44,176.86 L143.59,176.80 L143.75,176.74 L143.90,176.67 L144.06,176.61 L144.21,176.54 L144.37,176.47 L144.52,176.39 L144.68,176.32 L144.83,176.24 L144.98,176.17 L145.14,176.09 L145.29,176.01 L145.45,175.93 L145.60,175.84 L145.76,175.76 L145.91,175.67 L146.07,175.58 L146.22,175.49 L146.53,175.31 L146.84,175.12 L147.15,174.92 L147.46,174.72 L147.76,174.52 L148.07,174.31 L148.38,174.10 L148.69,173.88 L149.00,173.66 L149.31,173.43 L149.62,173.20 L149.93,172.97 L150.24,172.73 L150.55,172.49 L150.85,172.25 L151.16,172.00 L151.47,171.75 L151.78,171.50 L152.09,171.24 L152.40,170.99 L152.71,170.73 L153.02,170.47 L153.33,170.20 L153.64,169.94 L153.94,169.67 L154.25,169.40 L154.56,169.13 L154.87,168.86 L155.18,168.59 L155.49,168.32 L155.80,168.04 L156.11,167.76 L156.42,167.49 L156.73,167.21 L157.03,166.93 L157.34,166.65 L157.65,166.37 L157.96,166.09 L158.27,165.81 L158.58,165.53 L158.89,165.25 L159.20,164.96 L159.51,164.68 L159.82,164.40 L160.12,164.12 L160.43,163.83 L160.74,163.55 L161.05,163.27 L161.36,162.99 L161.67,162.70 L161.98,162.42 L162.29,162.14 L162.60,161.86 L162.91,161.58 L163.22,161.29 L163.52,161.01 L163.83,160.73 L164.14,160.45 L164.45,160.17 L164.76,159.89 L165.07,159.61 L165.38,159.33 L165.69,159.06 L166.00,158.78 L166.31,158.50 L166.61,158.22 L166.92,157.95 L167.23,157.67 L167.54,157.40 L167.85,157.12 L168.16,156.85 L168.47,156.57 L168.78,156.30 L169.09,156.03 L169.39,155.76 L169.70,155.48 L170.01,155.21 L170.32,154.94 L170.63,154.67 L170.94,154.40 L171.25,154.13 L171.56,153.86 L171.87,153.59 L172.18,153.32 L172.49,153.06 L172.79,152.79 L173.10,152.52 L173.41,152.25 L173.72,151.99 L174.03,151.72 L174.34,151.45 L174.65,151.19 L174.96,150.92 L175.27,150.66 L175.57,150.39 L175.88,150.13 L176.19,149.86 L176.50,149.60 L176.81,149.33 L177.12,149.07 L177.43,148.80 L177.74,148.54 L178.05,148.27 L178.36,148.01 L178.66,147.74 L178.97,147.48 L179.28,147.21 L179.59,146.94 L179.90,146.68 L180.21,146.41 L180.52,146.15 L180.83,145.88 L181.14,145.61 L181.45,145.34 L181.75,145.08 L182.06,144.81 L182.37,144.54 L182.68,144.27 L182.99,144.00 L183.30,143.73 L183.61,143.46 L183.92,143.18 L184.23,142.91 L184.54,142.64 L184.84,142.36 L185.15,142.09 L185.46,141.81 L185.77,141.53 L186.08,141.26 L186.39,140.98 L186.70,140.70 L187.01,140.42 L187.32,140.13 L187.63,139.85 L187.94,139.56 L188.24,139.28 L188.55,138.99 L188.86,138.70 L189.17,138.41 L189.48,138.12 L189.79,137.83 L190.10,137.54 L190.41,137.24 L190.72,136.94 L191.02,136.65 L191.33,136.34 L191.64,136.04 L191.95,135.74 L192.26,135.43 L192.57,135.13 L192.88,134.82 L193.19,134.51 L193.50,134.19 L193.81,133.88 L194.12,133.56 L194.42,133.24 L194.73,132.92 L195.04,132.60 L195.35,132.28 L195.66,131.95 L195.97,131.62 L196.28,131.29 L196.59,130.95 L196.90,130.62 L197.20,130.28 L197.51,129.94 L197.82,129.60 L198.13,129.25 L198.44,128.90 L198.75,128.55 L199.06,128.20 L199.37,127.84 L199.68,127.48 L199.99,127.12 L200.30,126.75 L200.60,126.39 L200.91,126.02 L201.22,125.64 L201.53,125.27 L201.84,124.89 L202.15,124.51 L202.46,124.12 L202.77,123.73 L203.08,123.34 L203.38,122.95 L203.69,122.55 L204.00,122.15 L204.31,121.75 L204.62,121.34 L204.93,120.93 L205.24,120.51 L205.55,120.10 L205.86,119.68 L206.17,119.25 L206.47,118.82 L206.78,118.39 L207.09,117.96 L207.40,117.52 L207.71,117.08 L208.02,116.63 L208.33,116.18 L208.64,115.73 L208.95,115.27 L209.26,114.81 L209.56,114.34 L209.87,113.87 L210.18,113.40 L210.49,112.92 L210.80,112.44 L211.11,111.96 L211.42,111.47 L211.73,110.97 L212.04,110.48 L212.35,109.97 L212.66,109.47 L212.96,108.96 L213.27,108.44 L213.58,107.92 L213.89,107.40 L214.20,106.87 L214.51,106.34 L214.82,105.81 L215.13,105.26 L215.44,104.72 L215.75,104.17 L216.05,103.61 L216.36,103.05 L216.67,102.49 L216.98,101.92 L217.29,101.35 L217.60,100.77 L217.91,100.19 L218.22,99.60 L218.53,99.01 L218.83,98.41 L219.14,97.81 L219.45,97.20 L219.76,96.59 L220.07,95.97 L220.38,95.35" stroke="#0a3cd2" stroke-width="2.3"/>
<path d="M121.50,146.38 L121.65,147.91 L121.81,149.35 L121.96,150.70 L122.12,151.98 L122.27,153.18 L122.43,154.31 L122.58,155.38 L122.74,156.39 L122.89,157.35 L123.05,158.25 L123.20,159.11 L123.35,159.92 L123.51,160.69 L123.66,161.42 L123.82,162.11 L123.97,162.76 L124.13,163.38 L124.28,163.97 L124.44,164.53 L124.59,165.07 L124.74,165.57 L124.90,166.06 L125.05,166.51 L125.21,166.95 L125.36,167.36 L125.52,167.75 L125.67,168.12 L125.83,168.48 L125.98,168.81 L126.14,169.13 L126.29,169.42 L126.44,169.71 L126.60,169.97 L126.75,170.22 L126.91,170.46 L127.06,170.68 L127.22,170.88 L127.37,171.08 L127.53,171.25 L127.68,171.42 L127.83,171.57 L127.99,171.70 L128.14,171.83 L128.30,171.94 L128.45,172.03 L128.61,172.12 L128.76,172.19 L128.92,172.25 L129.07,172.30 L129.22,172.33 L129.38,172.36 L129.53,172.37 L129.69,172.36 L129.84,172.35 L130.00,172.32 L130.15,172.29 L130.31,172.24 L130.46,172.17 L130.62,172.10 L130.77,172.01 L130.92,171.92 L131.08,171.81 L131.23,171.69 L131.39,171.55 L131.54,171.41 L131.70,171.25 L131.85,171.08 L132.01,170.90 L132.16,170.71 L132.31,170.51 L132.47,170.29 L132.62,170.07 L132.78,169.83 L132.93,169.58 L133.09,169.31 L133.24,169.04 L133.40,168.76 L133.55,168.46 L133.71,168.15 L133.86,167.83 L134.01,167.50 L134.17,167.16 L134.32,166.81 L134.48,166.44 L134.63,166.06 L134.79,165.68 L134.94,165.28 L135.10,164.87 L135.25,164.45 L135.41,164.01 L135.56,163.57 L135.71,163.12 L135.87,162.65 L136.02,162.17 L136.18,161.69 L136.33,161.19 L136.49,160.68 L136.64,160.16 L136.80,159.63 L136.95,159.09 L137.10,158.54 L137.26,157.98 L137.41,157.41 L137.57,156.82 L137.72,156.23 L137.88,155.63 L138.03,155.01 L138.19,154.39 L138.34,153.76 L138.50,153.11 L138.65,152.46 L138.80,151.80 L138.96,151.13 L139.11,150.44 L139.27,149.75 L139.42,149.05 L139.58,148.34 L139.73,147.62 L139.89,146.89 L140.04,146.15 L140.19,145.40 L140.35,144.64 L140.50,143.87 L140.66,143.10 L140.81,142.31 L140.97,141.52 L141.12,140.72 L141.28,139.91 L141.43,139.09 L141.59,138.26 L141.74,137.42 L141.89,136.58 L142.05,135.72 L142.20,134.86 L142.36,133.99 L142.51,133.11 L142.67,132.22 L142.82,131.33 L142.98,130.43 L143.13,129.52 L143.28,128.60 L143.44,127.67 L143.59,126.74 L143.75,125.80 L143.90,124.85 L144.06,123.89 L144.21,122.93 L144.37,121.96 L144.52,120.98 L144.68,120.00 L144.83,119.00 L144.98,118.00 L145.14,117.00 L145.29,115.98 L145.45,114.96 L145.60,113.94 L145.76,112.90 L145.91,111.86 L146.07,110.82 L146.22,109.76 L146.53,107.64 L146.84,105.49 L147.15,103.31 L147.46,101.11 L147.76,98.88 L148.07,96.64 L148.38,94.37 L148.69,92.07 L149.00,89.76 L149.31,87.42 L149.62,85.06 L149.93,82.68 L150.24,80.28 L150.55,77.86 L150.85,75.42 L151.16,72.96 L151.47,70.49 L151.78,67.99 L152.09,65.48 L152.40,62.95 L152.71,60.40 L153.02,57.83 L153.33,55.25 L153.64,52.65 L153.94,50.03 L154.25,47.40 L154.56,44.75 L154.87,42.09 L155.18,39.41 L155.49,36.71 L155.80,34.01 L156.11,31.28 L156.42,28.55 L156.73,25.80 L157.03,23.03 L157.34,20.25 L157.65,17.46 L157.96,14.66 L158.27,11.84 L158.58,9.01 L158.89,6.17 L159.20,3.32 L159.51,0.45 L159.82,-2.43 L160.12,-5.32 L160.43,-8.22 L160.74,-11.14 L161.05,-14.06 L161.36,-17.00 L161.67,-19.95 L161.98,-22.91 L162.29,-25.88 L162.60,-28.86 L162.91,-31.85 L163.22,-34.85 L163.52,-37.87 L163.83,-40.89 L164.14,-43.92 L164.45,-46.97 L164.76,-50.02 L165.07,-53.09 L165.38,-56.16 L165.69,-59.25 L166.00,-62.34 L166.31,-65.45 L166.61,-68.56 L166.92,-71.69 L167.23,-74.82 L167.54,-77.97 L167.85,-81.12 L168.16,-84.28 L168.47,-87.46 L168.78,-90.64 L169.09,-93.83 L169.39,-97.04 L169.70,-100.25 L170.01,-103.47 L170.32,-106.70 L170.63,-109.94 L170.94,-113.19 L171.25,-116.45 L171.56,-119.72 L171.87,-123.00 L172.18,-126.29 L172.49,-129.58 L172.79,-132.89 L173.10,-136.21 L173.41,-139.54 L173.72,-142.87 L174.03,-146.22 L174.34,-149.57 L174.65,-152.94 L174.96,-156.31 L175.27,-159.70 L175.57,-163.09 L175.88,-166.50 L176.19,-169.91 L176.50,-173.34 L176.81,-176.77 L177.12,-180.21 L177.43,-183.67 L177.74,-187.13 L178.05,-190.60 L178.36,-194.09 L178.66,-197.58 L178.97,-201.09 L179.28,-204.60 L179.59,-208.13 L179.90,-211.66 L180.21,-215.21 L180.52,-218.76 L180.83,-222.33 L181.14,-225.91 L181.45,-229.49 L181.75,-233.09 L182.06,-236.70 L182.37,-240.32 L182.68,-243.95 L182.99,-247.59 L183.30,-251.24 L183.61,-254.90 L183.92,-258.58 L184.23,-262.26 L184.54,-265.96 L184.84,-269.67 L185.15,-273.38 L185.46,-277.11 L185.77,-280.86 L186.08,-284.61 L186.39,-288.37 L186.70,-292.15 L187.01,-295.94 L187.32,-299.73 L187.63,-303.54 L187.94,-307.37 L188.24,-311.20 L188.55,-315.05 L188.86,-318.91 L189.17,-322.78 L189.48,-326.66 L189.79,-330.56 L190.10,-334.46 L190.41,-338.38 L190.72,-342.32 L191.02,-346.26 L191.33,-350.22 L191.64,-354.19 L191.95,-358.17 L192.26,-362.17 L192.57,-366.18 L192.88,-370.20 L193.19,-374.23 L193.50,-378.28 L193.81,-382.34 L194.12,-386.41 L194.42,-390.50 L194.73,-394.60 L195.04,-398.72 L195.35,-402.84 L195.66,-406.98 L195.97,-411.14 L196.28,-415.31 L196.59,-419.49 L196.90,-423.69 L197.20,-427.90 L197.51,-432.12 L197.82,-436.36 L198.13,-440.61 L198.44,-444.88 L198.75,-449.16 L199.06,-453.45 L199.37,-457.76 L199.68,-462.09 L199.99,-466.43 L200.30,-470.78 L200.60,-475.15 L200.91,-479.53 L201.22,-483.93 L201.53,-488.34 L201.84,-492.77 L202.15,-497.21 L202.46,-501.67 L202.77,-506.14 L203.08,-510.63 L203.38,-515.13 L203.69,-519.65 L204.00,-524.19 L204.31,-528.74 L204.62,-533.30 L204.93,-537.89 L205.24,-542.48 L205.55,-547.10 L205.86,-551.72 L206.17,-556.37 L206.47,-561.03 L206.78,-565.71 L207.09,-570.40 L207.40,-575.11 L207.71,-579.84 L208.02,-584.58 L208.33,-589.34 L208.64,-594.11 L208.95,-598.90 L209.26,-603.71 L209.56,-608.54 L209.87,-613.38 L210.18,-618.24 L210.49,-623.11 L210.80,-628.01 L211.11,-632.92 L211.42,-637.84 L211.73,-642.79 L212.04,-647.75 L212.35,-652.73 L212.66,-657.72 L212.96,-662.73 L213.27,-667.77 L213.58,-672.81 L213.89,-677.88 L214.20,-682.96 L214.51,-688.06 L214.82,-693.18 L215.13,-698.32 L215.44,-703.47 L215.75,-708.65 L216.05,-713.84 L216.36,-719.05 L216.67,-724.27 L216.98,-729.52 L217.29,-734.78 L217.60,-740.06 L217.91,-745.36 L218.22,-750.68 L218.53,-756.02 L218.83,-761.38 L219.14,-766.75 L219.45,-772.14 L219.76,-777.56 L220.07,-782.99 L220.38,-788.44" stroke="#cc0aa0" stroke-width="2.3"/>
<path d="M121.50,147.99 L121.65,148.56 L121.81,149.03 L121.96,149.38 L122.12,149.63 L122.27,149.78 L122.43,149.84 L122.58,149.80 L122.74,149.67 L122.89,149.46 L123.05,149.16 L123.20,148.79 L123.35,148.33 L123.51,147.81 L123.66,147.21 L123.82,146.54 L123.97,145.80 L124.13,145.00 L124.28,144.13 L124.44,143.20 L124.59,142.22 L124.74,141.17 L124.90,140.07 L125.05,138.92 L125.21,137.71 L125.36,136.45 L125.52,135.14 L125.67,133.78 L125.83,132.38 L125.98,130.92 L126.14,129.42 L126.29,127.88 L126.44,126.29 L126.60,124.66 L126.75,122.99 L126.91,121.28 L127.06,119.53 L127.22,117.73 L127.37,115.90 L127.53,114.04 L127.68,112.13 L127.83,110.19 L127.99,108.21 L128.14,106.20 L128.30,104.15 L128.45,102.07 L128.61,99.95 L128.76,97.80 L128.92,95.61 L129.07,93.40 L129.22,91.15 L129.38,88.87 L129.53,86.56 L129.69,84.22 L129.84,81.84 L130.00,79.44 L130.15,77.01 L130.31,74.54 L130.46,72.05 L130.62,69.52 L130.77,66.97 L130.92,64.39 L131.08,61.78 L131.23,59.14 L131.39,56.48 L131.54,53.78 L131.70,51.06 L131.85,48.31 L132.01,45.53 L132.16,42.73 L132.31,39.90 L132.47,37.04 L132.62,34.15 L132.78,31.24 L132.93,28.30 L133.09,25.33 L133.24,22.34 L133.40,19.32 L133.55,16.27 L133.71,13.20 L133.86,10.10 L134.01,6.98 L134.17,3.83 L134.32,0.65 L134.48,-2.55 L134.63,-5.77 L134.79,-9.03 L134.94,-12.30 L135.10,-15.61 L135.25,-18.93 L135.41,-22.29 L135.56,-25.67 L135.71,-29.07 L135.87,-32.50 L136.02,-35.95 L136.18,-39.43 L136.33,-42.93 L136.49,-46.46 L136.64,-50.01 L136.80,-53.59 L136.95,-57.19 L137.10,-60.82 L137.26,-64.47 L137.41,-68.15 L137.57,-71.85 L137.72,-75.57 L137.88,-79.32 L138.03,-83.09 L138.19,-86.89 L138.34,-90.71 L138.50,-94.56 L138.65,-98.43 L138.80,-102.32 L138.96,-106.24 L139.11,-110.19 L139.27,-114.15 L139.42,-118.14 L139.58,-122.16 L139.73,-126.19 L139.89,-130.26 L140.04,-134.34 L140.19,-138.45 L140.35,-142.58 L140.50,-146.74 L140.66,-150.92 L140.81,-155.13 L140.97,-159.35 L141.12,-163.61 L141.28,-167.88 L141.43,-172.18 L141.59,-176.50 L141.74,-180.84 L141.89,-185.21 L142.05,-189.60 L142.20,-194.02 L142.36,-198.46 L142.51,-202.92 L142.67,-207.40 L142.82,-211.91 L142.98,-216.44 L143.13,-221.00 L143.28,-225.57 L143.44,-230.17 L143.59,-234.80 L143.75,-239.44 L143.90,-244.11 L144.06,-248.80 L144.21,-253.52 L144.37,-258.25 L144.52,-263.01 L144.68,-267.80 L144.83,-272.60 L144.98,-277.43 L145.14,-282.28 L145.29,-287.15 L145.45,-292.05 L145.60,-296.97 L145.76,-301.91 L145.91,-306.87 L146.07,-311.86 L146.22,-316.86 L146.53,-326.95 L146.84,-337.12 L147.15,-347.38 L147.46,-357.73 L147.76,-368.16 L148.07,-378.69 L148.38,-389.30 L148.69,-400.00 L149.00,-410.78 L149.31,-421.66 L149.62,-432.61 L149.93,-443.66 L150.24,-454.79 L150.55,-466.00 L150.85,-477.30 L151.16,-488.69 L151.47,-500.16 L151.78,-511.71 L152.09,-523.35 L152.40,-535.07 L152.71,-546.88 L153.02,-558.77 L153.33,-570.74 L153.64,-582.79 L153.94,-594.92 L154.25,-607.14 L154.56,-619.44 L154.87,-631.82 L155.18,-644.28 L155.49,-656.82 L155.80,-669.44 L156.11,-682.14 L156.42,-694.92 L156.73,-707.78 L157.03,-720.72 L157.34,-733.73 L157.65,-746.83 L157.96,-760.00 L158.27,-773.26 L158.58,-786.59 L158.89,-799.99 L159.20,-813.48 L159.51,-827.04 L159.82,-840.68 L160.12,-854.39 L160.43,-868.18 L160.74,-882.05 L161.05,-895.99 L161.36,-910.00 L161.67,-924.09 L161.98,-938.26 L162.29,-952.50 L162.60,-966.81 L162.91,-981.20 L163.22,-995.66 L163.52,-1010.19 L163.83,-1024.80 L164.14,-1039.48 L164.45,-1054.23 L164.76,-1069.06 L165.07,-1083.95 L165.38,-1098.92 L165.69,-1113.96 L166.00,-1129.07 L166.31,-1144.25 L166.61,-1159.51 L166.92,-1174.83 L167.23,-1190.22 L167.54,-1205.68 L167.85,-1221.22 L168.16,-1236.82 L168.47,-1252.49 L168.78,-1268.23 L169.09,-1284.04 L169.39,-1299.92 L169.70,-1315.86 L170.01,-1331.88 L170.32,-1347.96 L170.63,-1364.11 L170.94,-1380.33 L171.25,-1396.61 L171.56,-1412.96 L171.87,-1429.38 L172.18,-1445.86 L172.49,-1462.41 L172.79,-1479.03 L173.10,-1495.71 L173.41,-1512.46 L173.72,-1529.27 L174.03,-1546.15 L174.34,-1563.10 L174.65,-1580.11 L174.96,-1597.18 L175.27,-1614.32 L175.57,-1631.52 L175.88,-1648.79 L176.19,-1666.12 L176.50,-1683.51 L176.81,-1700.97 L177.12,-1718.49 L177.43,-1736.07 L177.74,-1753.72 L178.05,-1771.43 L178.36,-1789.20 L178.66,-1807.03 L178.97,-1824.93 L179.28,-1842.89 L179.59,-1860.91 L179.90,-1878.99 L180.21,-1897.13 L180.52,-1915.34 L180.83,-1933.60 L181.14,-1951.93 L181.45,-1970.32 L181.75,-1988.77 L182.06,-2007.27 L182.37,-2025.84 L182.68,-2044.47 L182.99,-2063.16 L183.30,-2081.91 L183.61,-2100.72 L183.92,-2119.58 L184.23,-2138.51 L184.54,-2157.50 L184.84,-2176.54 L185.15,-2195.65 L185.46,-2214.81 L185.77,-2234.03 L186.08,-2253.31 L186.39,-2272.65 L186.70,-2292.04 L187.01,-2311.50 L187.32,-2331.01 L187.63,-2350.58 L187.94,-2370.20 L188.24,-2389.89 L188.55,-2409.63 L188.86,-2429.43 L189.17,-2449.28 L189.48,-2469.20 L189.79,-2489.16 L190.10,-2509.19 L190.41,-2529.27 L190.72,-2549.41 L191.02,-2569.60 L191.33,-2589.86 L191.64,-2610.16 L191.95,-2630.52 L192.26,-2650.94 L192.57,-2671.41 L192.88,-2691.94 L193.19,-2712.53 L193.50,-2733.17 L193.81,-2753.86 L194.12,-2774.61 L194.42,-2795.41 L194.73,-2816.27 L195.04,-2837.18 L195.35,-2858.15 L195.66,-2879.17 L195.97,-2900.25 L196.28,-2921.38 L196.59,-2942.56 L196.90,-2963.80 L197.20,-2985.09 L197.51,-3006.44 L197.82,-3027.84 L198.13,-3049.29 L198.44,-3070.80 L198.75,-3092.36 L199.06,-3113.97 L199.37,-3135.63 L199.68,-3157.35 L199.99,-3179.12 L200.30,-3200.95 L200.60,-3222.82 L200.91,-3244.75 L201.22,-3266.73 L201.53,-3288.77 L201.84,-3310.85 L202.15,-3332.99 L202.46,-3355.18 L202.77,-3377.42 L203.08,-3399.71 L203.38,-3422.06 L203.69,-3444.46 L204.00,-3466.90 L204.31,-3489.40 L204.62,-3511.96 L204.93,-3534.56 L205.24,-3557.21 L205.55,-3579.92 L205.86,-3602.67 L206.17,-3625.48 L206.47,-3648.34 L206.78,-3671.25 L207.09,-3694.21 L207.40,-3717.22 L207.71,-3740.28 L208.02,-3763.39 L208.33,-3786.55 L208.64,-3809.76 L208.95,-3833.02 L209.26,-3856.33 L209.56,-3879.69 L209.87,-3903.11 L210.18,-3926.57 L210.49,-3950.08 L210.80,-3973.64 L211.11,-3997.25 L211.42,-4020.91 L211.73,-4044.62 L212.04,-4068.38 L212.35,-4092.19 L212.66,-4116.04 L212.96,-4139.95 L213.27,-4163.91 L213.58,-4187.91 L213.89,-4211.97 L214.20,-4236.07 L214.51,-4260.22 L214.82,-4284.42 L215.13,-4308.67 L215.44,-4332.97 L215.75,-4357.31 L216.05,-4381.71 L216.36,-4406.15 L216.67,-4430.64 L216.98,-4455.18 L217.29,-4479.77 L217.60,-4504.41 L217.91,-4529.09 L218.22,-4553.83 L218.53,-4578.61 L218.83,-4603.43 L219.14,-4628.31 L219.45,-4653.23 L219.76,-4678.21 L220.07,-4703.23 L220.38,-4728.29" stroke="#0adc0a" stroke-width="2.3"/>
</g>
<path d="M123.97,184.2 v-1.5 M123.97,123.0 v1.5 M126.44,184.2 v-1.5 M126.44,123.0 v1.5 M128.92,184.2 v-1.5 M128.92,123.0 v1.5 M131.39,184.2 v-1.5 M131.39,123.0 v1.5 M133.86,184.2 v-2.6 M133.86,123.0 v2.6 M136.33,184.2 v-1.5 M136.33,123.0 v1.5 M138.80,184.2 v-1.5 M138.80,123.0 v1.5 M141.28,184.2 v-1.5 M141.28,123.0 v1.5 M143.75,184.2 v-1.5 M143.75,123.0 v1.5 M146.22,184.2 v-2.6 M146.22,123.0 v2.6 M148.69,184.2 v-1.5 M148.69,123.0 v1.5 M151.16,184.2 v-1.5 M151.16,123.0 v1.5 M153.64,184.2 v-1.5 M153.64,123.0 v1.5 M156.11,184.2 v-1.5 M156.11,123.0 v1.5 M158.58,184.2 v-2.6 M158.58,123.0 v2.6 M161.05,184.2 v-1.5 M161.05,123.0 v1.5 M163.52,184.2 v-1.5 M163.52,123.0 v1.5 M166.00,184.2 v-1.5 M166.00,123.0 v1.5 M168.47,184.2 v-1.5 M168.47,123.0 v1.5 M170.94,184.2 v-2.6 M170.94,123.0 v2.6 M173.41,184.2 v-1.5 M173.41,123.0 v1.5 M175.88,184.2 v-1.5 M175.88,123.0 v1.5 M178.36,184.2 v-1.5 M178.36,123.0 v1.5 M180.83,184.2 v-1.5 M180.83,123.0 v1.5 M183.30,184.2 v-2.6 M183.30,123.0 v2.6 M185.77,184.2 v-1.5 M185.77,123.0 v1.5 M188.24,184.2 v-1.5 M188.24,123.0 v1.5 M190.72,184.2 v-1.5 M190.72,123.0 v1.5 M193.19,184.2 v-1.5 M193.19,123.0 v1.5 M195.66,184.2 v-2.6 M195.66,123.0 v2.6 M198.13,184.2 v-1.5 M198.13,123.0 v1.5 M200.60,184.2 v-1.5 M200.60,123.0 v1.5 M203.08,184.2 v-1.5 M203.08,123.0 v1.5 M205.55,184.2 v-1.5 M205.55,123.0 v1.5 M208.02,184.2 v-2.6 M208.02,123.0 v2.6 M210.49,184.2 v-1.5 M210.49,123.0 v1.5 M212.96,184.2 v-1.5 M212.96,123.0 v1.5 M215.44,184.2 v-1.5 M215.44,123.0 v1.5 M217.91,184.2 v-1.5 M217.91,123.0 v1.5 M121.1,182.61 h1.5 M220.8,182.61 h-1.5 M121.1,181.03 h1.5 M220.8,181.03 h-1.5 M121.1,179.46 h1.5 M220.8,179.46 h-1.5 M121.1,177.88 h2.6 M220.8,177.88 h-2.6 M121.1,176.30 h1.5 M220.8,176.30 h-1.5 M121.1,174.73 h1.5 M220.8,174.73 h-1.5 M121.1,173.15 h1.5 M220.8,173.15 h-1.5 M121.1,171.58 h1.5 M220.8,171.58 h-1.5 M121.1,170.00 h2.6 M220.8,170.00 h-2.6 M121.1,168.42 h1.5 M220.8,168.42 h-1.5 M121.1,166.85 h1.5 M220.8,166.85 h-1.5 M121.1,165.27 h1.5 M220.8,165.27 h-1.5 M121.1,163.70 h1.5 M220.8,163.70 h-1.5 M121.1,162.12 h2.6 M220.8,162.12 h-2.6 M121.1,160.54 h1.5 M220.8,160.54 h-1.5 M121.1,158.97 h1.5 M220.8,158.97 h-1.5 M121.1,157.39 h1.5 M220.8,157.39 h-1.5 M121.1,155.82 h1.5 M220.8,155.82 h-1.5 M121.1,154.24 h2.6 M220.8,154.24 h-2.6 M121.1,152.66 h1.5 M220.8,152.66 h-1.5 M121.1,151.09 h1.5 M220.8,151.09 h-1.5 M121.1,149.51 h1.5 M220.8,149.51 h-1.5 M121.1,147.94 h1.5 M220.8,147.94 h-1.5 M121.1,146.36 h2.6 M220.8,146.36 h-2.6 M121.1,144.78 h1.5 M220.8,144.78 h-1.5 M121.1,143.21 h1.5 M220.8,143.21 h-1.5 M121.1,141.63 h1.5 M220.8,141.63 h-1.5 M121.1,140.06 h1.5 M220.8,140.06 h-1.5 M121.1,138.48 h2.6 M220.8,138.48 h-2.6 M121.1,136.90 h1.5 M220.8,136.90 h-1.5 M121.1,135.33 h1.5 M220.8,135.33 h-1.5 M121.1,133.75 h1.5 M220.8,133.75 h-1.5 M121.1,132.18 h1.5 M220.8,132.18 h-1.5 M121.1,130.60 h2.6 M220.8,130.60 h-2.6 M121.1,129.02 h1.5 M220.8,129.02 h-1.5 M121.1,127.45 h1.5 M220.8,127.45 h-1.5 M121.1,125.87 h1.5 M220.8,125.87 h-1.5 M121.1,124.30 h1.5 M220.8,124.30 h-1.5" stroke="#909090" stroke-width="0.75" fill="none"/>
<rect x="121.1" y="123.0" width="99.70" height="61.20" fill="none" stroke="#9c9c9c" stroke-width="0.9"/>
<path d="M71,39.0 H114.6" stroke="#000000" stroke-width="2.4" stroke-dasharray="6.4 4.1" stroke-dashoffset="1"/>
<path d="M71,55.1 H114.6" stroke="#0a3cd2" stroke-width="2.4"/>
<path d="M71,71.2 H114.6" stroke="#cc0aa0" stroke-width="2.4"/>
<path d="M71,87.3 H114.6" stroke="#0adc0a" stroke-width="2.4"/>
<text transform="translate(111.28,279.50) scale(1.1285,1)" font-size="13.3" fill="#727272">3</text>
<text transform="translate(159.40,279.50) scale(1.0028,1)" font-size="13.3" fill="#727272">4</text>
<text transform="translate(206.44,279.50) scale(1.1572,1)" font-size="13.3" fill="#727272">5</text>
<text transform="translate(254.37,279.50) scale(1.0911,1)" font-size="13.3" fill="#727272">6</text>
<text transform="translate(301.66,279.50) scale(1.1502,1)" font-size="13.3" fill="#727272">7</text>
<text transform="translate(349.77,279.50) scale(1.0999,1)" font-size="13.3" fill="#727272">8</text>
<text transform="translate(397.53,279.50) scale(1.0923,1)" font-size="13.3" fill="#727272">9</text>
<text transform="translate(441.90,279.50) scale(0.9979,1)" font-size="13.3" fill="#727272">10</text>
<text transform="translate(57.70,256.10) scale(0.9935,1)" font-size="13.3" fill="#727272">0</text>
<text transform="translate(51.03,221.02) scale(0.9979,1)" font-size="13.3" fill="#727272">10</text>
<text transform="translate(51.64,185.94) scale(0.9501,1)" font-size="13.3" fill="#727272">20</text>
<text transform="translate(51.59,150.86) scale(0.9542,1)" font-size="13.3" fill="#727272">30</text>
<text transform="translate(51.96,115.78) scale(0.9255,1)" font-size="13.3" fill="#727272">40</text>
<text transform="translate(51.45,80.70) scale(0.9650,1)" font-size="13.3" fill="#727272">50</text>
<text transform="translate(51.66,45.62) scale(0.9491,1)" font-size="13.3" fill="#727272">60</text>
<text transform="translate(130.78,197.00) scale(1.1638,1)" font-size="10.4" fill="#808080">3</text>
<text transform="translate(143.51,197.00) scale(1.0343,1)" font-size="10.4" fill="#808080">4</text>
<text transform="translate(155.36,197.00) scale(1.1935,1)" font-size="10.4" fill="#808080">5</text>
<text transform="translate(167.94,197.00) scale(1.1253,1)" font-size="10.4" fill="#808080">6</text>
<text transform="translate(179.99,197.00) scale(1.1863,1)" font-size="10.4" fill="#808080">7</text>
<text transform="translate(192.71,197.00) scale(1.1343,1)" font-size="10.4" fill="#808080">8</text>
<text transform="translate(205.14,197.00) scale(1.1266,1)" font-size="10.4" fill="#808080">9</text>
<text transform="translate(214.73,197.00) scale(1.0341,1)" font-size="10.4" fill="#808080">10</text>
<text transform="translate(99.48,181.18) scale(0.9979,1)" font-size="10.4" fill="#808080">−0.6</text>
<text transform="translate(99.48,173.30) scale(1.0033,1)" font-size="10.4" fill="#808080">−0.5</text>
<text transform="translate(99.49,165.42) scale(0.9898,1)" font-size="10.4" fill="#808080">−0.4</text>
<text transform="translate(99.48,157.54) scale(1.0033,1)" font-size="10.4" fill="#808080">−0.3</text>
<text transform="translate(99.48,149.66) scale(1.0127,1)" font-size="10.4" fill="#808080">−0.2</text>
<text transform="translate(99.47,141.78) scale(1.0156,1)" font-size="10.4" fill="#808080">−0.1</text>
<text transform="translate(105.61,133.90) scale(0.9830,1)" font-size="10.4" fill="#808080">0.0</text>
<text transform="translate(105.60,126.02) scale(1.0017,1)" font-size="10.4" fill="#808080">0.1</text>
<text transform="translate(117.67,43.00) scale(1.0047,1)" font-size="13.2" font-style="italic" fill="#000">Q</text>
<text transform="translate(127.14,45.10) scale(0.9704,1)" font-size="10.4" font-style="italic" fill="#000">m</text>
<text transform="translate(137.66,44.00) scale(1.1233,1)" font-size="13.2" fill="#000" stroke="#000" stroke-width="0.2">=</text>
<text transform="translate(148.54,43.00) scale(0.9052,1)" font-size="13.2" fill="#000">0.00</text>
<text transform="translate(178.05,43.00) scale(1.0343,1)" font-size="13.2" font-style="italic" fill="#000">r</text>
<text transform="translate(183.30,45.10) scale(1.0700,1)" font-size="10.4" font-style="italic" fill="#000">h</text>
<text transform="translate(191.23,44.00) scale(1.1722,1)" font-size="13.2" fill="#000" stroke="#000" stroke-width="0.2">=</text>
<text transform="translate(202.05,43.00) scale(0.9505,1)" font-size="13.2" fill="#000">2.000</text>
<text transform="translate(117.67,59.10) scale(1.0047,1)" font-size="13.2" font-style="italic" fill="#000">Q</text>
<text transform="translate(127.14,61.20) scale(0.9704,1)" font-size="10.4" font-style="italic" fill="#000">m</text>
<text transform="translate(137.66,60.10) scale(1.1233,1)" font-size="13.2" fill="#000" stroke="#000" stroke-width="0.2">=</text>
<text transform="translate(148.54,59.10) scale(0.9052,1)" font-size="13.2" fill="#000">0.30</text>
<text transform="translate(178.05,59.10) scale(1.0343,1)" font-size="13.2" font-style="italic" fill="#000">r</text>
<text transform="translate(183.30,61.20) scale(1.0700,1)" font-size="10.4" font-style="italic" fill="#000">h</text>
<text transform="translate(191.23,60.10) scale(1.1722,1)" font-size="13.2" fill="#000" stroke="#000" stroke-width="0.2">=</text>
<text transform="translate(202.51,59.10) scale(0.9358,1)" font-size="13.2" fill="#000">1.929</text>
<text transform="translate(117.67,75.20) scale(1.0047,1)" font-size="13.2" font-style="italic" fill="#000">Q</text>
<text transform="translate(127.14,77.30) scale(0.9704,1)" font-size="10.4" font-style="italic" fill="#000">m</text>
<text transform="translate(137.66,76.20) scale(1.1233,1)" font-size="13.2" fill="#000" stroke="#000" stroke-width="0.2">=</text>
<text transform="translate(148.54,75.20) scale(0.9052,1)" font-size="13.2" fill="#000">0.60</text>
<text transform="translate(178.05,75.20) scale(1.0343,1)" font-size="13.2" font-style="italic" fill="#000">r</text>
<text transform="translate(183.30,77.30) scale(1.0700,1)" font-size="10.4" font-style="italic" fill="#000">h</text>
<text transform="translate(191.23,76.20) scale(1.1722,1)" font-size="13.2" fill="#000" stroke="#000" stroke-width="0.2">=</text>
<text transform="translate(202.52,75.20) scale(0.9349,1)" font-size="13.2" fill="#000">1.813</text>
<text transform="translate(117.67,91.30) scale(1.0047,1)" font-size="13.2" font-style="italic" fill="#000">Q</text>
<text transform="translate(127.14,93.40) scale(0.9704,1)" font-size="10.4" font-style="italic" fill="#000">m</text>
<text transform="translate(137.66,92.30) scale(1.1233,1)" font-size="13.2" fill="#000" stroke="#000" stroke-width="0.2">=</text>
<text transform="translate(148.54,91.30) scale(0.9052,1)" font-size="13.2" fill="#000">0.90</text>
<text transform="translate(178.05,91.30) scale(1.0343,1)" font-size="13.2" font-style="italic" fill="#000">r</text>
<text transform="translate(183.30,93.40) scale(1.0700,1)" font-size="10.4" font-style="italic" fill="#000">h</text>
<text transform="translate(191.23,92.30) scale(1.1722,1)" font-size="13.2" fill="#000" stroke="#000" stroke-width="0.2">=</text>
<text transform="translate(202.51,91.30) scale(0.9358,1)" font-size="13.2" fill="#000">1.719</text>
<text transform="translate(137.35,15.60) scale(1.2136,1)" font-size="18.0" font-style="italic" fill="#707070" stroke="#707070" stroke-width="0.35">β</text>
<text transform="translate(151.65,18.67) scale(1.3386,1.250)" font-size="18.0" font-weight="bold" fill="#707070" stroke="#707070" stroke-width="0.2">=</text>
<text transform="translate(168.76,15.60) scale(1.0858,1)" font-size="18.0" font-weight="bold" fill="#707070">0.60,</text>
<text transform="translate(215.91,15.60) scale(1.0643,1)" font-size="18.0" font-weight="bold" font-style="italic" fill="#707070">Q</text>
<text transform="translate(238.40,18.67) scale(1.3386,1.250)" font-size="18.0" font-weight="bold" fill="#707070" stroke="#707070" stroke-width="0.2">=</text>
<text transform="translate(255.16,15.60) scale(1.0801,1)" font-size="18.0" font-weight="bold" fill="#707070">0,</text>
<text transform="translate(276.52,15.60) scale(1.1932,1)" font-size="18.0" font-weight="bold" font-style="italic" fill="#707070">ℓ</text>
<text transform="translate(288.80,18.67) scale(1.3386,1.250)" font-size="18.0" font-weight="bold" fill="#707070" stroke="#707070" stroke-width="0.2">=</text>
<text transform="translate(305.28,15.60) scale(1.0864,1)" font-size="18.0" font-weight="bold" fill="#707070">2,</text>
<text transform="translate(327.73,15.60) scale(0.8785,1)" font-size="18.0" font-weight="bold" fill="#707070">M</text>
<text transform="translate(345.80,18.67) scale(1.3386,1.250)" font-size="18.0" font-weight="bold" fill="#707070" stroke="#707070" stroke-width="0.2">=</text>
<text transform="translate(363.25,15.60) scale(1.0739,1)" font-size="18.0" font-weight="bold" fill="#707070">1.</text>
<text transform="translate(229.17,18.50) scale(1.0811,1)" font-size="13.0" font-weight="bold" font-style="italic" fill="#707070">e</text>
<text transform="translate(255.26,303.00) scale(1.1295,1)" font-size="14.6" font-weight="bold" font-style="italic" fill="#707070">r</text>
<text transform="translate(39.70,168.76) rotate(-90) scale(0.9498,1)" font-size="13.7" font-weight="bold" font-style="italic" fill="#707070" stroke="#707070" stroke-width="0.3">V</text>
<text transform="translate(43.30,158.97) rotate(-90) scale(0.9162,1)" font-size="13.0" fill="#707070">em</text>
<text transform="translate(39.70,144.70) rotate(-90) scale(1.1652,1)" font-size="13.7" font-weight="bold" fill="#707070">(</text>
<text transform="translate(39.70,139.72) rotate(-90) scale(1.1454,1)" font-size="13.7" font-weight="bold" font-style="italic" fill="#707070">r</text>
<text transform="translate(39.70,133.00) rotate(-90) scale(1.3642,1)" font-size="13.7" font-weight="bold" fill="#707070">)</text>
</svg>
</body></html>
